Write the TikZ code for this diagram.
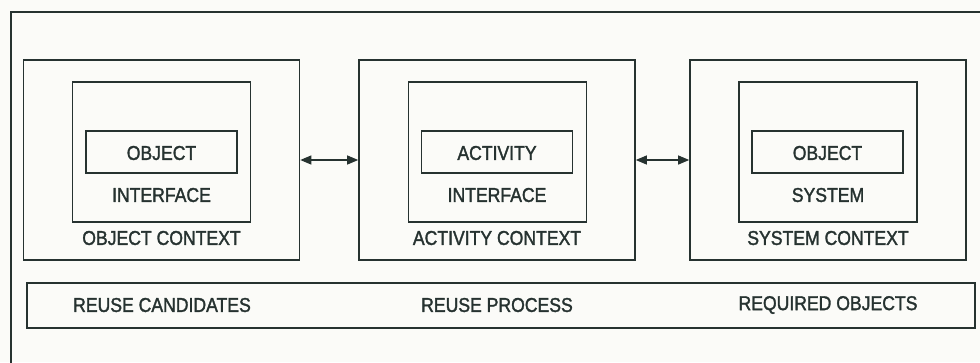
\documentclass[tikz,border=0pt]{standalone}
\usepackage{fontspec}
\setmainfont{Liberation Sans}[FakeStretch=0.88, FakeBold=1.6]
\usetikzlibrary{arrows.meta}
\definecolor{ink}{HTML}{263230}
\definecolor{paper}{HTML}{FBFBF8}
\tikzset{
  frame/.style={draw=ink, line width=1.6pt, rectangle, inner sep=0pt},
  ctxbox/.style={frame, minimum width=276pt, minimum height=200pt},
  midbox/.style={frame, minimum width=178pt, minimum height=140pt},
  corebox/.style={frame, minimum width=151pt, minimum height=42pt},
  lbl/.style={text=ink, font=\fontsize{20}{22}\selectfont, inner sep=0pt, anchor=center},
  link/.style={draw=ink, line width=1.1pt, {Triangle[length=11pt,width=9pt]}-{Triangle[length=11pt,width=9pt]}}
}
\begin{document}
\begin{tikzpicture}[x=1pt, y=-1pt]
  \useasboundingbox (0,0) rectangle (980,362);
  \fill[paper] (0,0) rectangle (980,362);
  \begin{scope}
    \clip (0,0) rectangle (980,362);
    % enclosing frame, running past the right and bottom edges
    \draw[ink, line width=1.6pt] (11,380) -- (11,12) -- (1000,12);
  \end{scope}

  % left column: object context
  \node[ctxbox]  (oc)  at (161.5,160) {};
  \node[midbox]  (oi)  at (161.5,152) {};
  \node[corebox] (oo)  at (161.5,152) {};
  \node[lbl] (ootxt) at (161.5,153) {OBJECT};
  \node[lbl] (oitxt) at (161.5,195) {INTERFACE};
  \node[lbl] (octxt) at (161.5,238) {OBJECT CONTEXT};

  % middle column: activity context
  \node[ctxbox]  (ac)  at (497,160) {};
  \node[midbox]  (ai)  at (497.5,152) {};
  \node[corebox] (aa)  at (497,152) {};
  \node[lbl] (aatxt) at (497,153) {ACTIVITY};
  \node[lbl] (aitxt) at (497,195) {INTERFACE};
  \node[lbl] (actxt) at (497,238) {ACTIVITY CONTEXT};

  % right column: system context
  \node[ctxbox]  (sc)  at (828,160) {};
  \node[midbox]  (ss)  at (828,152) {};
  \node[corebox] (so)  at (827.5,152) {};
  \node[lbl] (sotxt) at (827.5,153) {OBJECT};
  \node[lbl] (sstxt) at (828,195) {SYSTEM};
  \node[lbl] (sctxt) at (828,238) {SYSTEM CONTEXT};

  % connectors between contexts
  \draw[link] (oc.east) -- (ac.west);
  \draw[link] (ac.east) -- (sc.west);

  % bottom band
  \node[frame, minimum width=948pt, minimum height=45pt] (band) at (501,305.5) {};
  \node[lbl] (rc) at (162,305) {REUSE CANDIDATES};
  \node[lbl] (rp) at (497,305) {REUSE PROCESS};
  \node[lbl] (ro) at (828,305) {REQUIRED OBJECTS};
\end{tikzpicture}
\end{document}
